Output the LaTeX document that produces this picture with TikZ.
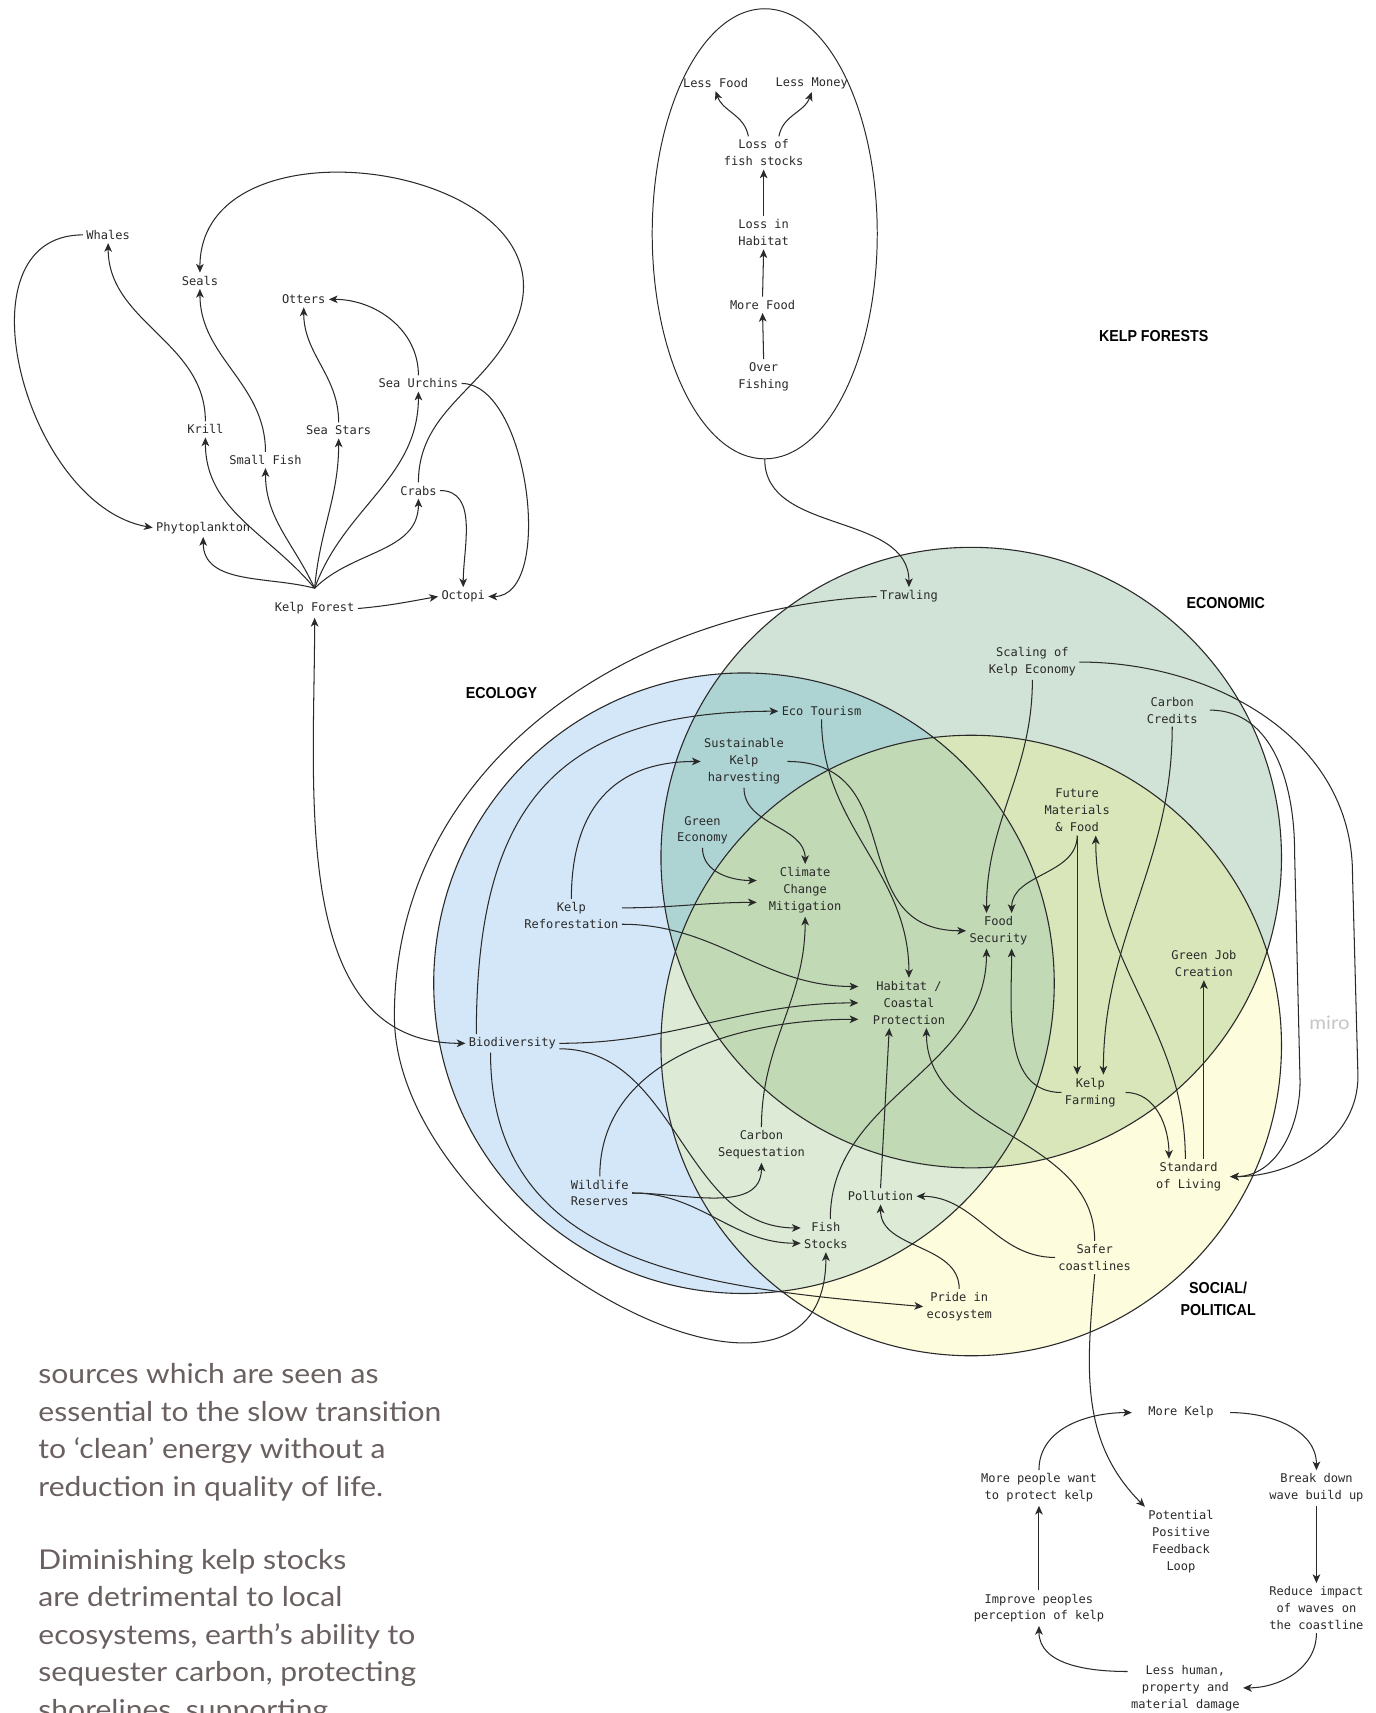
\documentclass[tikz,border=0pt]{standalone}
\usepackage{fontspec}
\setmonofont{DejaVu Sans Mono}
\newfontfamily\hdrfont[FakeStretch=0.9]{Liberation Sans}
\newfontfamily\parafont[FakeStretch=1.1]{Lato}
\usetikzlibrary{arrows.meta,shapes.geometric}
\definecolor{ink}{HTML}{2A2A2A}
\definecolor{ecoblue}{HTML}{D4E7F8}
\definecolor{econgreen}{HTML}{D1E2D6}
\definecolor{socyellow}{HTML}{FDFCDC}
\definecolor{blueecon}{HTML}{AED3D3}
\definecolor{econsoc}{HTML}{D8E6B9}
\definecolor{bluesoc}{HTML}{DCEAD6}
\definecolor{allthree}{HTML}{C1DAB5}
\definecolor{paragray}{HTML}{6A6060}
\definecolor{mirogray}{HTML}{C6C6C6}
\tikzset{
	lbl/.style={font=\fontsize{11}{15.5}\selectfont\ttfamily, text=ink, align=center, inner sep=3pt},
	hdr/.style={font=\fontsize{14.5}{20}\selectfont\hdrfont\bfseries, text=black, align=center},
	arr/.style={draw=ink, line width=0.95pt, -{Stealth[length=8pt,width=7pt,inset=2.2pt]}},
	arrboth/.style={arr, {Stealth[length=8pt,width=7pt,inset=2.2pt]}-{Stealth[length=8pt,width=7pt,inset=2.2pt]}},
	ring/.style={draw=ink, line width=1pt}
}
\def\rr{284pt}
\begin{document}
\begin{tikzpicture}[x=1pt,y=1pt]
			\fill[white] (0,0) rectangle (1259,-1568);
			\useasboundingbox (0,0) rectangle (1259,-1568);
			% venn circles
			\coordinate (ecoC) at (681,-900);
			\coordinate (econC) at (889,-785);
			\coordinate (socC) at (889,-957);
			\fill[ecoblue] (ecoC) circle[radius=\rr];
			\fill[econgreen] (econC) circle[radius=\rr];
			\fill[socyellow] (socC) circle[radius=\rr];
			\begin{scope}
				\clip (econC) circle[radius=\rr];
				\fill[econsoc] (socC) circle[radius=\rr];
			\end{scope}
			\begin{scope}
				\clip (ecoC) circle[radius=\rr];
				\fill[blueecon] (econC) circle[radius=\rr];
				\fill[bluesoc] (socC) circle[radius=\rr];
				\clip (econC) circle[radius=\rr];
				\fill[allthree] (socC) circle[radius=\rr];
			\end{scope}
			\draw[ring] (ecoC) circle[radius=\rr];
			\draw[ring] (econC) circle[radius=\rr];
			\draw[ring] (socC) circle[radius=\rr];
			% headings
			\node[hdr] (kelpforests) at (1056,-308) {KELP FORESTS};
			\node[hdr] (economic) at (1122,-552) {ECONOMIC};
			\node[hdr] (ecology) at (459,-634) {ECOLOGY};
			\node[hdr] (social) at (1115,-1189) {SOCIAL/\\POLITICAL};
			\node[text=mirogray, font=\fontsize{17}{17}\selectfont\parafont] (miro) at (1217,-936) {miro};
			% food web
			\node[lbl] (whales) at (99,-215) {Whales};
			\node[lbl] (seals) at (183,-257) {Seals};
			\node[lbl] (otters) at (278,-274) {Otters};
			\node[lbl] (urchins) at (383,-351) {Sea Urchins};
			\node[lbl] (krill) at (188,-393) {Krill};
			\node[lbl] (stars) at (310,-394) {Sea Stars};
			\node[lbl] (smallfish) at (243,-421) {Small Fish};
			\node[lbl] (crabs) at (383,-449) {Crabs};
			\node[lbl] (phyto) at (186,-483) {Phytoplankton};
			\node[lbl] (kelpforest) at (288,-557) {Kelp Forest};
			\node[lbl] (octopi) at (424,-546) {Octopi};
			\coordinate (kftop) at ([yshift=10pt]kelpforest.north);
			\draw[arr] (kftop) to[out=165,in=-90] (phyto.south);
			\draw[arr] (kftop) to[out=130,in=-90] (krill.south);
			\draw[arr] (kftop) to[out=115,in=-90] (smallfish.south);
			\draw[arr] (kftop) to[out=85,in=-90] (stars.south);
			\draw[arr] (kftop) to[out=70,in=-90] (urchins.south);
			\draw[arr] (kftop) to[out=45,in=-90] (crabs.south);
			\draw[arr] (kelpforest.east) to[out=5,in=190] (octopi.west);
			\draw[arr] (crabs.east) to[out=0,in=90] (octopi.north);
			\draw[arr] (urchins.east) to[out=0,in=0,looseness=0.8] (octopi.east);
			\draw[arr] (crabs.north) to[out=90,in=-110] (474,-290) to[out=70,in=90,looseness=1.3] (seals.north);
			\draw[arr] (krill.north) to[out=90,in=-90] (whales.south);
			\draw[arr] (smallfish.north) to[out=90,in=-90] (seals.south);
			\draw[arr] (stars.north) to[out=90,in=-90] (otters.south);
			\draw[arr] (urchins.north) to[out=90,in=0] (otters.east);
			\draw[arr] (whales.west) to[out=180,in=170,looseness=1.1] (phyto.west);
			% over fishing loop
			\node[draw=ink, line width=0.9pt, ellipse, minimum width=206pt, minimum height=412pt, inner sep=0pt] (overloop) at (700,-214) {};
			\node[lbl] (lessfood) at (655,-76) {Less Food};
			\node[lbl] (lessmoney) at (743,-76) {Less Money};
			\node[lbl] (lossfish) at (699,-140) {Loss of\\fish stocks};
			\node[lbl] (losshab) at (699,-213) {Loss in\\Habitat};
			\node[lbl] (morefood) at (698,-279) {More Food};
			\node[lbl] (overfish) at (699,-345) {Over\\Fishing};
			\draw[arr] (overfish.north) -- (morefood.south);
			\draw[arr] (morefood.north) -- (losshab.south);
			\draw[arr] (losshab.north) -- (lossfish.south);
			\draw[arr] ([xshift=-14pt]lossfish.north) to[out=100,in=-70] (lessfood.south);
			\draw[arr] ([xshift=14pt]lossfish.north) to[out=80,in=-110] (lessmoney.south);
			% venn nodes
			\node[lbl] (trawling) at (832,-546) {Trawling};
			\node[lbl] (scaling) at (945,-606) {Scaling of\\Kelp Economy};
			\node[lbl] (credits) at (1073,-650) {Carbon\\Credits};
			\node[lbl] (ecotour) at (752,-651) {Eco Tourism};
			\node[lbl] (sustain) at (681,-697) {Sustainable\\Kelp\\harvesting};
			\node[lbl] (greenecon) at (643,-760) {Green\\Economy};
			\node[lbl] (climate) at (737,-815) {Climate\\Change\\Mitigation};
			\node[lbl] (future) at (986,-742) {Future\\Materials\\\& Food};
			\node[lbl] (reforest) at (523,-838) {Kelp\\Reforestation};
			\node[lbl] (foodsec) at (914,-852) {Food\\Security};
			\node[lbl] (greenjob) at (1102,-882) {Green Job\\Creation};
			\node[lbl] (habitat) at (832,-918) {Habitat /\\Coastal\\Protection};
			\node[lbl] (biodiv) at (469,-955) {Biodiversity};
			\node[lbl] (farming) at (998,-1000) {Kelp\\Farming};
			\node[lbl] (carbonseq) at (697,-1048) {Carbon\\Sequestation};
			\node[lbl] (living) at (1088,-1077) {Standard\\of Living};
			\node[lbl] (wildlife) at (549,-1092) {Wildlife\\Reserves};
			\node[lbl] (pollution) at (806,-1095) {Pollution};
			\node[lbl] (fishstocks) at (756,-1131) {Fish\\Stocks};
			\node[lbl] (safer) at (1002,-1151) {Safer\\coastlines};
			\node[lbl] (pride) at (878,-1196) {Pride in\\ecosystem};
			\draw[arrboth] (kelpforest.south) to[out=-90,in=180] (biodiv.west);
			\draw[arr] (overloop.south) to[out=-90,in=90] (trawling.north);
			\draw[arr] (trawling.west) to[out=183,in=90] (361,-930) to[out=-90,in=-90,looseness=1.15] (fishstocks.south);
			\draw[arr] ([xshift=-33pt]biodiv.north) to[out=90,in=180,looseness=1.3] (ecotour.west);
			\draw[arr] (reforest.north) to[out=90,in=180,looseness=1.2] (sustain.west);
			\draw[arr] ([yshift=7pt]reforest.east) to[out=0,in=180] ([xshift=-8pt,yshift=-11pt]climate.west);
			\draw[arr] ([yshift=-8pt]reforest.east) to[out=0,in=180] ([xshift=-10pt,yshift=15pt]habitat.west);
			\draw[arr] (greenecon.south) to[out=-90,in=180] ([xshift=-8pt,yshift=9pt]climate.west);
			\draw[arr] (sustain.south) to[out=-90,in=90] (climate.north);
			\draw[arr] (sustain.east) to[out=0,in=180,looseness=1.3] (foodsec.west);
			\draw[arr] (ecotour.south) to[out=-90,in=90] (habitat.north);
			\draw[arr] (scaling.south) to[out=-90,in=90] ([xshift=-11pt]foodsec.north);
			\draw[arr] (future.south) to[out=-90,in=90] ([xshift=12pt]foodsec.north);
			\draw[arr] (future.south) -- ([xshift=-12pt]farming.north);
			\draw[arr] (credits.south) to[out=-90,in=90] ([xshift=12pt]farming.north);
			\draw[arr] (scaling.east) to[out=0,in=90] (1238,-800) -- (1243,-985) to[out=-90,in=0] ([xshift=5pt]living.east);
			\draw[arr] ([xshift=8pt]credits.east) to[out=0,in=90] (1185,-780) -- (1190,-990) to[out=-90,in=0] ([xshift=5pt]living.east);
			\draw[arr] ([xshift=6pt]farming.east) to[out=0,in=90] ([xshift=-18pt]living.north);
			\draw[arr] ([xshift=-3pt]living.north) to[out=90,in=-90] ([xshift=17pt]future.south);
			\draw[arr] ([xshift=14pt]living.north) -- (greenjob.south);
			\draw[arr] (farming.west) to[out=180,in=-90] ([xshift=12pt]foodsec.south);
			\draw[arr] ([xshift=4pt]fishstocks.north) to[out=90,in=-90] ([xshift=-11pt]foodsec.south);
			\draw[arr] (pollution.north) -- ([xshift=-18pt]habitat.south);
			\draw[arr] (safer.north) to[out=90,in=-90] ([xshift=16pt]habitat.south);
			\draw[arr] (safer.west) to[out=180,in=0] (pollution.east);
			\draw[arr] (pride.north) to[out=90,in=-90] (pollution.south);
			\draw[arr] (wildlife.north) to[out=90,in=180] ([xshift=-10pt,yshift=-15pt]habitat.west);
			\draw[arr] (wildlife.east) to[out=0,in=-90] (carbonseq.south);
			\draw[arr] (wildlife.east) to[out=0,in=180] ([yshift=-7pt]fishstocks.west);
			\draw[arr] (biodiv.east) to[out=0,in=180] ([xshift=-10pt]habitat.west);
			\draw[arr] ([yshift=-5pt]biodiv.east) to[out=0,in=180] ([yshift=7pt]fishstocks.west);
			\draw[arr] (carbonseq.north) to[out=90,in=-90] (climate.south);
			\draw[arr] ([xshift=-20pt]biodiv.south) to[out=-90,in=175,looseness=1.1] (pride.west);
			% feedback loop
			\node[lbl] (morekelp) at (1081,-1293) {More Kelp};
			\node[lbl] (morepeople) at (951,-1362) {More people want\\to protect kelp};
			\node[lbl] (breakdown) at (1205,-1362) {Break down\\wave build up};
			\node[lbl] (feedback) at (1081,-1411) {Potential\\Positive\\Feedback\\Loop};
			\node[lbl] (improve) at (951,-1472) {Improve peoples\\perception of kelp};
			\node[lbl] (reduce) at (1205,-1472) {Reduce impact\\of waves on\\the coastline};
			\node[lbl] (lesshuman) at (1085,-1545) {Less human,\\property and\\material damage};
			\draw[arr] (safer.south) to[out=-95,in=135] (feedback.north west);
			\draw[arr] ([xshift=12pt]morekelp.east) to[out=0,in=90] (breakdown.north);
			\draw[arr] (breakdown.south) -- (reduce.north);
			\draw[arr] (reduce.south) to[out=-90,in=0] (lesshuman.east);
			\draw[arr] ([yshift=15pt]lesshuman.west) to[out=180,in=-90] (improve.south);
			\draw[arr] (improve.north) -- (morepeople.south);
			\draw[arr] (morepeople.north) to[out=90,in=180] ([xshift=-12pt]morekelp.west);
			% text
			\node[anchor=north west, inner sep=0pt, align=left, text=paragray, font=\fontsize{25}{34.3}\selectfont\parafont] (para) at (35,-1248) {sources which are seen as\\essential to the slow transition\\to ‘clean’ energy without a\\reduction in quality of life.\\[32.5pt]Diminishing kelp stocks\\are detrimental to local\\ecosystems, earth’s ability to\\sequester carbon, protecting\\shorelines, supporting};
\end{tikzpicture}
\end{document}
